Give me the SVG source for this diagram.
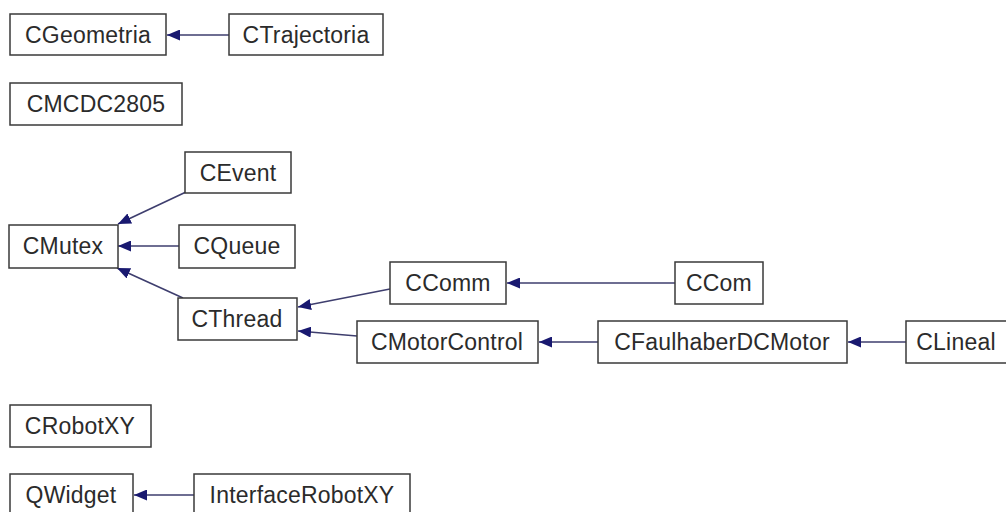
<svg xmlns="http://www.w3.org/2000/svg" width="1006" height="512" viewBox="0 0 1006 512">
  <style>
    .node rect { fill: #ffffff; stroke: #3a3a3a; stroke-width: 1.5; }
    .node text { font-family: "Liberation Sans", Arial, sans-serif; font-size: 23px; fill: #2b2b2b; text-anchor: middle; letter-spacing: 0.2px; }
    .edge { stroke: #3e3e6e; stroke-width: 1.6; fill: none; marker-end: url(#head); }
  </style>
  <defs>
    <marker id="head" viewBox="0 0 13 11" refX="13" refY="5.5" markerWidth="13" markerHeight="11" markerUnits="userSpaceOnUse" orient="auto">
      <path d="M0,0 L13,5.5 L0,11 Z" fill="#191970"/>
    </marker>
  </defs>
  <rect width="1006" height="512" fill="#ffffff"/>

  <!-- inheritance edges: derived class points at its base -->
  <g id="edges">
    <line class="edge" x1="229" y1="35" x2="167" y2="35"/>
    <line class="edge" x1="186" y1="192" x2="118" y2="224"/>
    <line class="edge" x1="179" y1="246" x2="118" y2="246"/>
    <line class="edge" x1="183" y1="298" x2="117" y2="268"/>
    <line class="edge" x1="390" y1="289" x2="298" y2="307"/>
    <line class="edge" x1="357" y1="336" x2="298" y2="331"/>
    <line class="edge" x1="675" y1="283" x2="507" y2="283"/>
    <line class="edge" x1="599" y1="342" x2="539" y2="342"/>
    <line class="edge" x1="906" y1="342" x2="848" y2="342"/>
    <line class="edge" x1="194" y1="495" x2="134" y2="495"/>
  </g>

  <g id="CGeometria" class="node"><rect x="10" y="14" width="156" height="41"/><text x="88" y="43">CGeometria</text></g>
  <g id="CTrajectoria" class="node"><rect x="229" y="14" width="154" height="41"/><text x="306" y="43">CTrajectoria</text></g>
  <g id="CMCDC2805" class="node"><rect x="10" y="83" width="172" height="42"/><text x="96" y="112">CMCDC2805</text></g>
  <g id="CEvent" class="node"><rect x="185" y="152" width="106" height="41"/><text x="238" y="181">CEvent</text></g>
  <g id="CMutex" class="node"><rect x="9" y="225" width="109" height="43"/><text x="63" y="254">CMutex</text></g>
  <g id="CQueue" class="node"><rect x="179" y="225" width="116" height="43"/><text x="237" y="254">CQueue</text></g>
  <g id="CThread" class="node"><rect x="178" y="298" width="119" height="42"/><text x="237" y="327">CThread</text></g>
  <g id="CComm" class="node"><rect x="390" y="262" width="116" height="42"/><text x="448" y="291">CComm</text></g>
  <g id="CCom" class="node"><rect x="675" y="262" width="88" height="42"/><text x="719" y="291">CCom</text></g>
  <g id="CMotorControl" class="node"><rect x="357" y="321" width="181" height="42"/><text x="447" y="350">CMotorControl</text></g>
  <g id="CFaulhaberDCMotor" class="node"><rect x="598" y="321" width="249" height="42"/><text x="722" y="350">CFaulhaberDCMotor</text></g>
  <g id="CLineal" class="node"><rect x="906" y="321" width="104" height="42"/><text x="956" y="350">CLineal</text></g>
  <g id="CRobotXY" class="node"><rect x="10" y="405" width="141" height="42"/><text x="80" y="434">CRobotXY</text></g>
  <g id="QWidget" class="node"><rect x="10" y="474" width="123" height="42"/><text x="71" y="503">QWidget</text></g>
  <g id="InterfaceRobotXY" class="node"><rect x="194" y="474" width="216" height="42"/><text x="302" y="503">InterfaceRobotXY</text></g>
</svg>
